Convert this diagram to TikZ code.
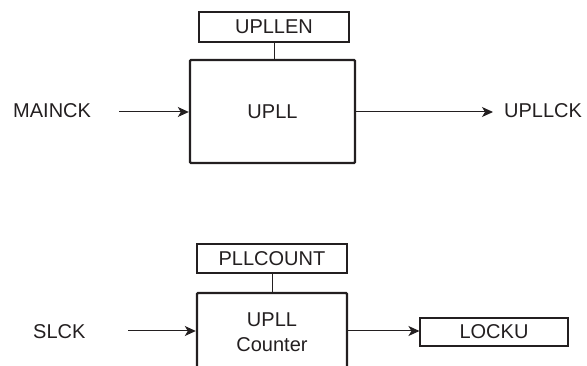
\documentclass[tikz,border=0pt]{standalone}
\usepackage{fontspec}
\setmainfont{Liberation Sans}
\usetikzlibrary{arrows.meta}
\definecolor{ink}{HTML}{231F20}
\begin{document}
\begin{tikzpicture}[x=1pt,y=-1pt,
  every node/.style={font=\fontsize{20}{25}\selectfont, text=ink},
  thinbox/.style={draw=ink, line width=1.1pt, rectangle, inner sep=0pt},
  thickbox/.style={draw=ink, line width=2.4pt, rectangle, inner sep=0pt, rounded corners=1pt},
  label/.style={inner sep=0pt},
  arr/.style={draw=ink, line width=1pt, -{Stealth[length=11pt,width=10pt,inset=3pt]}},
  wire/.style={draw=ink, line width=1pt}]
\useasboundingbox (0,0) rectangle (587,366);
\clip (0,0) rectangle (587,366);
% top section
\node[thinbox, minimum width=150pt, minimum height=30pt] (upllen) at (274,27) {UPLLEN};
\node[thickbox, minimum width=165pt, minimum height=103pt] (upll) at (272.5,111.5) {UPLL};
\node[label, anchor=west] (mainck) at (13,110.5) {MAINCK};
\node[label, anchor=west] (upllck) at (504,110.5) {UPLLCK};
\coordinate (mainckout) at (119,112);
\coordinate (upllckin) at (493,112);
\draw[wire] (upllen.south) -- (upllen.south |- upll.north);
\draw[arr] (mainckout) -- (mainckout -| upll.west);
\draw[arr] (upllckin -| upll.east) -- (upllckin);
% bottom section
\node[thinbox, minimum width=150pt, minimum height=29pt] (pllcount) at (272,258.5) {PLLCOUNT};
\node[thickbox, minimum width=150pt, minimum height=78pt, align=center] (counter) at (272,332) {UPLL\\Counter};
\node[label, anchor=west] (slck) at (33,332) {SLCK};
\node[thinbox, minimum width=148pt, minimum height=28pt] (locku) at (494,332) {LOCKU};
\coordinate (slckout) at (128,331);
\draw[wire] (pllcount.south) -- (pllcount.south |- counter.north);
\draw[arr] (slckout) -- (slckout -| counter.west);
\draw[arr] (counter.east |- 0,331) -- (locku.west |- 0,331);
\end{tikzpicture}
\end{document}
